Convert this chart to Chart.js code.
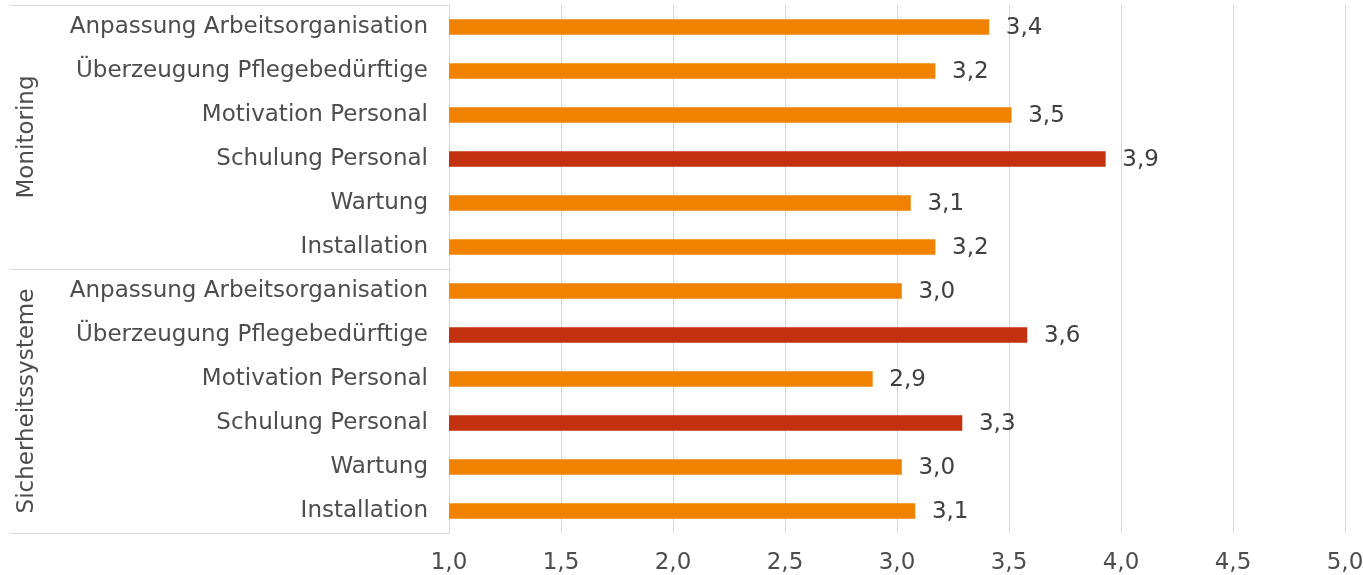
<!DOCTYPE html>
<html>
<head>
<meta charset="utf-8">
<script src="https://cdn.jsdelivr.net/npm/chart.js@4"></script>
<style>
  html, body { margin: 0; padding: 0; background: #ffffff; }
  #wrap { width: 1363px; height: 575px; position: relative; }
</style>
</head>
<body>
<div id="wrap"><canvas id="c" width="1363" height="575"></canvas></div>
<script>
// ---- data ----
const groups = ["Monitoring", "Sicherheitssysteme"];
const categories = [
  "Anpassung Arbeitsorganisation",
  "Überzeugung Pflegebedürftige",
  "Motivation Personal",
  "Schulung Personal",
  "Wartung",
  "Installation",
  "Anpassung Arbeitsorganisation",
  "Überzeugung Pflegebedürftige",
  "Motivation Personal",
  "Schulung Personal",
  "Wartung",
  "Installation"
];
const groupOfCategory = [0,0,0,0,0,0,1,1,1,1,1,1];
const values = [3.41, 3.17, 3.51, 3.93, 3.06, 3.17, 3.02, 3.58, 2.89, 3.29, 3.02, 3.08];
const highlighted = [false, false, false, true, false, false, false, true, false, true, false, false];
const xTicks = [1.0, 1.5, 2.0, 2.5, 3.0, 3.5, 4.0, 4.5, 5.0];

const ORANGE = "#F18200";
const RED = "#C3300E";
const TEXT = "#4d4d4d";
const GRID = "#D9D9D9";
const FONT = "'DejaVu Sans', Verdana, sans-serif";
const FSIZE = 23;

const fmt = v => v.toFixed(1).replace(".", ",");

const extrasPlugin = {
  id: "extras",
  afterDatasetsDraw(chart) {
    const ctx = chart.ctx;
    const meta = chart.getDatasetMeta(0);
    ctx.save();
    ctx.font = FSIZE + "px " + FONT;
    ctx.fillStyle = "#404040";
    ctx.textAlign = "left";
    ctx.textBaseline = "middle";
    meta.data.forEach((bar, i) => {
      ctx.fillText(fmt(values[i]), bar.x + 17, bar.y + 1);
    });
    ctx.restore();
  },
  afterDraw(chart) {
    const ctx = chart.ctx;
    const y = chart.scales.y;
    const area = chart.chartArea;
    const half = (y.getPixelForValue(1) - y.getPixelForValue(0)) / 2;
    ctx.save();
    ctx.strokeStyle = GRID;
    ctx.lineWidth = 1;
    const bounds = [];
    groups.forEach((g, gi) => {
      const idx = groupOfCategory.map((v, i) => v === gi ? i : -1).filter(i => i >= 0);
      const top = y.getPixelForValue(idx[0]) - half;
      const bot = y.getPixelForValue(idx[idx.length - 1]) + half;
      bounds.push(top, bot);
      ctx.save();
      ctx.translate(27, (top + bot) / 2);
      ctx.rotate(-Math.PI / 2);
      ctx.font = FSIZE + "px " + FONT;
      ctx.fillStyle = TEXT;
      ctx.textAlign = "center";
      ctx.textBaseline = "middle";
      ctx.fillText(g, 0, 0);
      ctx.restore();
    });
    const uniq = [...new Set(bounds.map(b => Math.round(b)))];
    uniq.forEach(b => {
      ctx.beginPath();
      ctx.moveTo(10, b + 0.5);
      ctx.lineTo(area.left, b + 0.5);
      ctx.stroke();
    });
    ctx.restore();
  }
};

new Chart(document.getElementById("c"), {
  type: "bar",
  data: {
    labels: categories,
    datasets: [{
      data: values,
      backgroundColor: highlighted.map(h => h ? RED : ORANGE),
      barThickness: 15,
      borderWidth: 0
    }]
  },
  options: {
    indexAxis: "y",
    responsive: false,
    animation: false,
    layout: { padding: { left: 0, right: 18, top: 5, bottom: 0 } },
    plugins: {
      legend: { display: false },
      tooltip: { enabled: false }
    },
    scales: {
      x: {
        min: 1, max: 5,
        afterBuildTicks: s => { s.ticks = xTicks.map(v => ({ value: v })); },
        afterFit: s => { s.height = 42; s.paddingLeft = 0; s.paddingRight = 0; },
        ticks: {
          callback: v => fmt(v),
          color: TEXT,
          font: { family: FONT, size: FSIZE },
          padding: 16,
          maxRotation: 0,
          autoSkip: false
        },
        grid: { color: GRID, drawTicks: false },
        border: { display: false }
      },
      y: {
        afterFit: s => { s.width = 449; s.paddingTop = 0; s.paddingBottom = 0; },
        ticks: {
          color: TEXT,
          font: { family: FONT, size: FSIZE },
          padding: 21,
          autoSkip: false
        },
        grid: { display: false, drawTicks: false },
        border: { display: true, color: GRID }
      }
    }
  },
  plugins: [extrasPlugin]
});
</script>
</body>
</html>
